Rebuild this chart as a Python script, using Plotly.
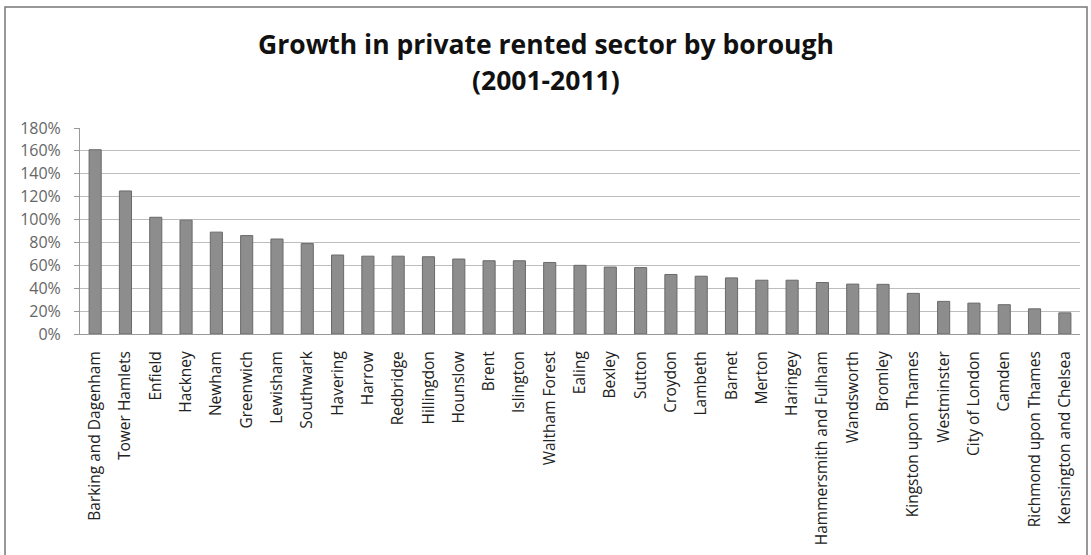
import plotly.graph_objects as go

boroughs = [
    "Barking and Dagenham", "Tower Hamlets", "Enfield", "Hackney", "Newham",
    "Greenwich", "Lewisham", "Southwark", "Havering", "Harrow", "Redbridge",
    "Hillingdon", "Hounslow", "Brent", "Islington", "Waltham Forest", "Ealing",
    "Bexley", "Sutton", "Croydon", "Lambeth", "Barnet", "Merton", "Haringey",
    "Hammersmith and Fulham", "Wandsworth", "Bromley", "Kingston upon Thames",
    "Westminster", "City of London", "Camden", "Richmond upon Thames",
    "Kensington and Chelsea",
]
growth = [
    1.61, 1.25, 1.02, 0.995, 0.89, 0.86, 0.83, 0.79, 0.69, 0.68, 0.68,
    0.675, 0.655, 0.64, 0.64, 0.625, 0.60, 0.585, 0.58, 0.52, 0.505,
    0.49, 0.47, 0.47, 0.45, 0.436, 0.434, 0.355, 0.285, 0.27, 0.256,
    0.22, 0.185,
]
y_ticks = [0, 0.2, 0.4, 0.6, 0.8, 1.0, 1.2, 1.4, 1.6, 1.8]
y_tick_text = ["0%", "20%", "40%", "60%", "80%", "100%", "120%", "140%", "160%", "180%"]
title_lines = ["Growth in private rented sector by borough", "(2001-2011)"]

fig = go.Figure(
    go.Bar(
        x=boroughs,
        y=growth,
        marker=dict(color="#8d8d8d", line=dict(color="#6a6a6a", width=1)),
        width=0.4,
    )
)

# Title drawn as two centred lines above the plot area
title_y = [1.408, 1.233]
annotations = [
    dict(
        text=f"<b>{line}</b>", xref="paper", yref="paper",
        x=0.4655, y=ty, xanchor="center", yanchor="middle", showarrow=False,
        font=dict(family="Open Sans, sans-serif", size=26.5, color="#111111"),
    )
    for line, ty in zip(title_lines, title_y)
]

fig.update_layout(
    width=1091,
    height=555,
    margin=dict(l=80, r=11, t=128, b=221),
    paper_bgcolor="white",
    plot_bgcolor="white",
    showlegend=False,
    font=dict(family="Open Sans, sans-serif"),
    annotations=annotations,
    shapes=[
        dict(
            type="rect", xref="paper", yref="paper",
            x0=-0.075, x1=1.007, y0=-1.2, y1=1.587,
            line=dict(color="#777777", width=1.5), fillcolor="rgba(0,0,0,0)",
            layer="below",
        )
    ],
)

fig.update_xaxes(
    tickangle=-90,
    tickfont=dict(size=15.5, color="#222222"),
    showline=True,
    linecolor="#9a9a9a",
    linewidth=1,
    showgrid=False,
    ticks="",
    ticklabelstandoff=10,
)
fig.update_yaxes(
    range=[0, 1.8],
    tickvals=y_ticks,
    ticktext=y_tick_text,
    tickfont=dict(size=16, color="#666666"),
    showgrid=True,
    gridcolor="#bdbdbd",
    gridwidth=1,
    showline=True,
    linecolor="#9a9a9a",
    ticks="outside",
    ticklen=5,
    tickcolor="#9a9a9a",
    zeroline=False,
    ticklabelstandoff=10,
)

fig.write_html("out.html")
